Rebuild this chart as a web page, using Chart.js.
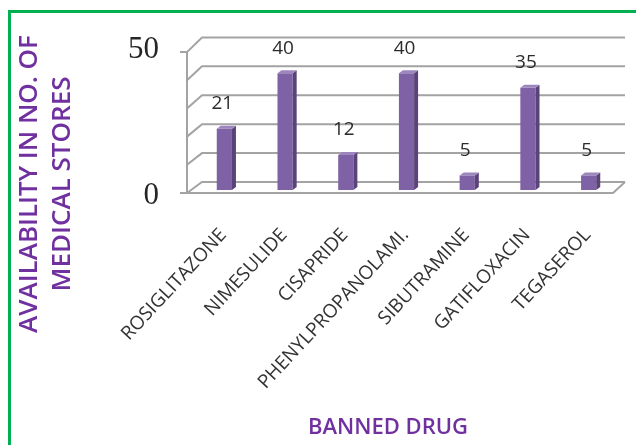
<!DOCTYPE html>
<html>
<head>
<meta charset="utf-8">
<script src="https://cdn.jsdelivr.net/npm/chart.js@4"></script>
<style>
  body { margin: 0; background: #fff; }
  #wrap { position: relative; width: 636px; height: 445px; }
  #frame { position: absolute; left: 8px; top: 10px; right: 0; bottom: 0;
           border-left: 3px solid #00b050; border-top: 3px solid #00b050; }
</style>
</head>
<body>
<div id="wrap">
  <div id="frame"></div>
  <canvas id="drugGraph"></canvas>
</div>
<script>
// Données
const drugs = ['ROSIGLITAZONE', 'NIMESULIDE', 'CISAPRIDE', 'PHENYLPROPANOLAMI.', 'SIBUTRAMINE', 'GATIFLOXACIN', 'TEGASEROL'];
const stores = [21, 40, 12, 40, 5, 35, 5];
const yTickLabels = [0, 50];
const yTitleLines = ['AVAILABILITY IN NO. OF', 'MEDICAL STORES'];
const xTitle = 'BANNED DRUG';

const PURPLE = '#7030a0';

// Cadre 3D (murs + grille)
const framePlugin = {
    id: 'frame3d',
    beforeDatasetsDraw(chart) {
        const ctx = chart.ctx;
        const y = chart.scales.y;
        const a = chart.chartArea;
        const y0 = y.getPixelForValue(0);
        const front = v => y0 + 3 + (y.getPixelForValue(v) - y0) * 0.965;
        const back = v => y0 - 8 + (y.getPixelForValue(v) - y0) * 0.99;
        const xf = a.left - 7, xb = a.left + 8, xr = a.right + 6;

        ctx.save();
        ctx.strokeStyle = '#a3a3a3';
        ctx.lineWidth = 2;
        y.ticks.forEach(t => {
            ctx.beginPath();
            ctx.moveTo(xf, front(t.value));
            ctx.lineTo(xb, back(t.value));
            ctx.lineTo(xr, back(t.value));
            ctx.stroke();
        });
        // axe avant
        ctx.beginPath();
        ctx.moveTo(xf, front(0));
        ctx.lineTo(xf, front(y.max));
        ctx.moveTo(xf - 7, front(y.max));
        ctx.lineTo(xf, front(y.max));
        // sol
        ctx.moveTo(xf - 7, front(0));
        ctx.lineTo(a.right - 6, front(0));
        ctx.lineTo(xr, back(0));
        ctx.stroke();
        ctx.restore();
    },
    afterDatasetsDraw(chart) {
        const ctx = chart.ctx;
        const dx = 4, dy = 3;
        ctx.save();
        chart.getDatasetMeta(0).data.forEach((bar, i) => {
            const { x, y, base, width } = bar.getProps(['x', 'y', 'base', 'width'], true);
            const r = x + width / 2, l = x - width / 2;
            // côté
            ctx.fillStyle = '#5a4379';
            ctx.beginPath();
            ctx.moveTo(r, y);
            ctx.lineTo(r + dx, y - dy);
            ctx.lineTo(r + dx, base - dy);
            ctx.lineTo(r, base);
            ctx.closePath();
            ctx.fill();
            // dessus
            ctx.fillStyle = '#9c86bd';
            ctx.beginPath();
            ctx.moveTo(l, y);
            ctx.lineTo(l + dx, y - dy);
            ctx.lineTo(r + dx, y - dy);
            ctx.lineTo(r, y);
            ctx.closePath();
            ctx.fill();
            // étiquette
            ctx.fillStyle = '#2b2b2b';
            ctx.font = '19px "Open Sans"';
            ctx.textAlign = 'center';
            ctx.textBaseline = 'middle';
            ctx.fillText(String(stores[i]), x - 2, y - 25);
        });
        ctx.restore();
    },
    afterDraw(chart) {
        const ctx = chart.ctx;
        ctx.save();
        ctx.fillStyle = PURPLE;
        ctx.textAlign = 'center';
        ctx.textBaseline = 'middle';
        ctx.font = '600 26px "Open Sans"';
        yTitleLines.forEach((line, i) => {
            ctx.save();
            ctx.translate(30 + i * 33, 184);
            ctx.rotate(-Math.PI / 2);
            ctx.fillText(line, 0, 0);
            ctx.restore();
        });
        ctx.font = '600 22px "Open Sans"';
        ctx.fillText(xTitle, 388, 428);
        ctx.restore();
    }
};

function initChart() {
    const ctx = document.getElementById('drugGraph').getContext('2d');
    return new Chart(ctx, {
        type: 'bar',
        data: {
            labels: drugs,
            datasets: [{
                data: stores,
                backgroundColor: '#7f62a6',
                borderWidth: 0,
                barPercentage: 0.25,
                categoryPercentage: 1
            }]
        },
        options: {
            responsive: true,
            maintainAspectRatio: false,
            animation: false,
            layout: { padding: { top: 44, right: 17, left: 0, bottom: 0 } },
            plugins: {
                legend: { display: false },
                tooltip: { enabled: false }
            },
            scales: {
                x: {
                    grid: { display: false, drawTicks: false },
                    border: { display: false },
                    afterFit: s => {
                        s.height = 255;
                        s.paddingLeft = 0;
                        s.paddingRight = 0;
                    },
                    ticks: {
                        autoSkip: false,
                        minRotation: 47,
                        maxRotation: 47,
                        padding: 34,
                        labelOffset: -1,
                        color: '#333',
                        font: { family: 'Open Sans', size: 19 }
                    }
                },
                y: {
                    min: 0,
                    max: 50,
                    grid: { display: false, drawTicks: false },
                    border: { display: false },
                    afterFit: s => {
                        s.width = 194;
                        s.paddingTop = 0;
                        s.paddingBottom = 0;
                    },
                    ticks: {
                        autoSkip: false,
                        stepSize: 10,
                        padding: 35,
                        labelOffset: 6,
                        color: '#262626',
                        font: { family: 'Liberation Serif', size: 31 },
                        callback: v => yTickLabels.includes(v) ? v : ''
                    }
                }
            }
        },
        plugins: [framePlugin]
    });
}

document.addEventListener('DOMContentLoaded', initChart);
</script>
</body>
</html>
